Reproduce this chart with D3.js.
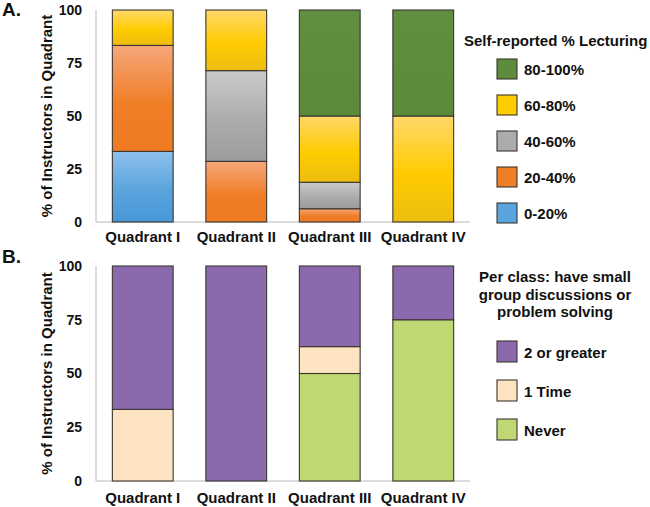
<!DOCTYPE html>
<html><head><meta charset="utf-8">
<script src="https://cdn.jsdelivr.net/npm/d3@7"></script>
<style>body{margin:0;background:#fff}svg{display:block}text{font-family:"Liberation Sans",Arial,sans-serif;font-weight:bold;fill:#111}</style>
</head><body><svg id="c" width="650" height="507"></svg>
<script>
const quadrants = ["Quadrant I","Quadrant II","Quadrant III","Quadrant IV"];
const yTicks = [0,25,50,75,100];
// Panel A: self-reported % lecturing
const lectureKeys = ["0-20%","20-40%","40-60%","60-80%","80-100%"];
const lecture0_20   = [33.3, 0, 0, 0];
const lecture20_40  = [50.0, 28.6, 6.25, 0];
const lecture40_60  = [0, 42.8, 12.5, 0];
const lecture60_80  = [16.7, 28.6, 31.25, 50];
const lecture80_100 = [0, 0, 50, 50];
const lectureColors = ["#5aa4dd","#ef7e27","#acacac","#ffcc00","#5d8c3c"];
const lectureTop    = ["#8ec0ea","#f6a77a","#cacaca","#ffd86a","#5f8f3f"];
const lectureBot    = ["#4898d8","#ee7b22","#9c9c9c","#ecbd12","#5b8a3a"];
// Panel B: small group discussions per class
const groupKeys = ["Never","1 Time","2 or greater"];
const groupNever = [0, 0, 50, 75];
const groupOnce  = [33.3, 0, 12.5, 0];
const groupTwo   = [66.7, 100, 37.5, 25];
const groupColors = ["#bfd874","#fee3c2","#8a6aad"];

const svg = d3.select("#c");
const defs = svg.append("defs");
lectureKeys.forEach((k,i)=>{
  const g = defs.append("linearGradient").attr("id","g"+i).attr("x1",0).attr("y1",0).attr("x2",0).attr("y2",1);
  g.append("stop").attr("offset","0%").attr("stop-color",lectureTop[i]);
  g.append("stop").attr("offset","55%").attr("stop-color",lectureColors[i]);
  g.append("stop").attr("offset","100%").attr("stop-color",lectureBot[i]);
});

const x = d3.scaleBand().domain(quadrants).range([96,470]).paddingInner(0.35).paddingOuter(0.175);

function panel(top, bottom, keys, arrays, fills, letter, letterY, labelY){
  const y = d3.scaleLinear().domain([0,100]).range([bottom, top]);
  const rows = quadrants.map((q,i)=>{const r={q}; keys.forEach((k,j)=>r[k]=arrays[j][i]); return r;});
  const stack = d3.stack().keys(keys)(rows);
  svg.append("line").attr("x1",96).attr("x2",96).attr("y1",y(100)).attr("y2",bottom).attr("stroke","#d0d0d0").attr("stroke-width",1.5);
  svg.append("line").attr("x1",96).attr("x2",470).attr("y1",bottom).attr("y2",bottom).attr("stroke","#d0d0d0").attr("stroke-width",1.5);
  stack.forEach((s,j)=>{
    svg.append("g").selectAll("rect").data(s.filter(d=>d[1]-d[0]>0)).join("rect")
      .attr("x",d=>x(d.data.q)).attr("width",x.bandwidth())
      .attr("y",d=>y(d[1])).attr("height",d=>y(d[0])-y(d[1]))
      .attr("fill",fills[j]).attr("stroke","#3b3530").attr("stroke-width",1.1);
  });
  const ax = svg.append("g").attr("transform","translate(82,0)")
    .call(d3.axisLeft(y).tickValues(yTicks).tickSize(0).tickPadding(0));
  ax.select(".domain").remove();
  ax.selectAll("text").style("font-size","14px").style("font-family","Liberation Sans, Arial, sans-serif").style("font-weight","bold").attr("fill","#111");
  const xa = svg.append("g").attr("transform",`translate(0,${labelY})`)
    .call(d3.axisBottom(x).tickSize(0).tickPadding(0));
  xa.select(".domain").remove();
  xa.selectAll("text").attr("dy",0).style("font-size","15px").style("font-family","Liberation Sans, Arial, sans-serif").style("font-weight","bold").attr("fill","#111");
  svg.append("text").attr("transform",`translate(52,${(top+bottom)/2}) rotate(-90)`)
    .attr("text-anchor","middle").style("font-size","15px").text("% of Instructors in Quadrant");
  svg.append("text").attr("x",2).attr("y",letterY).style("font-size","19px").text(letter);
}

panel(10, 222, lectureKeys, [lecture0_20,lecture20_40,lecture40_60,lecture60_80,lecture80_100], lectureKeys.map((k,i)=>`url(#g${i})`), "A.", 16, 242);
panel(266, 481, groupKeys, [groupNever,groupOnce,groupTwo], groupColors, "B.", 263, 503);

// Legend A
svg.append("text").attr("x",464).attr("y",46).style("font-size","15px").text("Self-reported % Lecturing");
const legA = lectureKeys.slice().reverse();
legA.forEach((k,i)=>{
  const idx = lectureKeys.indexOf(k);
  svg.append("rect").attr("x",497).attr("y",59+i*36).attr("width",20).attr("height",20)
    .attr("fill",lectureColors[idx]).attr("stroke","#3b3530").attr("stroke-width",1.1);
  svg.append("text").attr("x",524).attr("y",75+i*36).style("font-size","15px").text(k);
});
// Legend B
["Per class: have small","group discussions or","problem solving"].forEach((t,i)=>{
  svg.append("text").attr("x",555).attr("y",282+i*17.5).attr("text-anchor","middle").style("font-size","15px").text(t);
});
const legB = groupKeys.slice().reverse();
legB.forEach((k,i)=>{
  const idx = groupKeys.indexOf(k);
  svg.append("rect").attr("x",497).attr("y",341+i*39).attr("width",20).attr("height",21)
    .attr("fill",groupColors[idx]).attr("stroke","#3b3530").attr("stroke-width",1.1);
  svg.append("text").attr("x",524).attr("y",358+i*39).style("font-size","15px").text(k);
});
</script></body></html>
